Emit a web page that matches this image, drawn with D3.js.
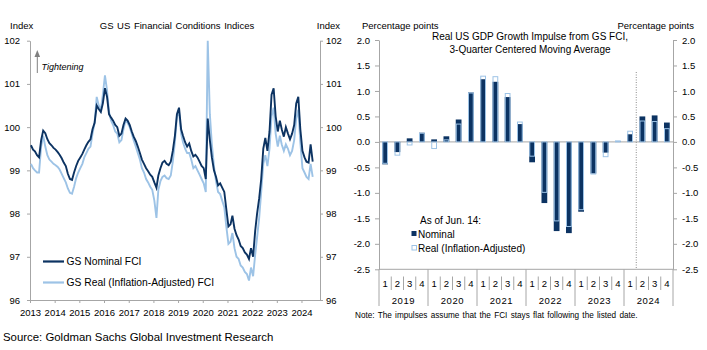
<!DOCTYPE html>
<html>
<head>
<meta charset="utf-8">
<script src="https://cdn.jsdelivr.net/npm/d3@7"></script>
<style>
  body { margin: 0; background: #fff; }
  svg { display: block; font-family: "Liberation Sans", Arial, sans-serif; }
</style>
</head>
<body>
<svg id="chart" width="707" height="350"></svg>
<script>
// left panel: monthly GS FCI readings, Jan 2013 .. Jun 2024
const fciNominal = [
  99.58, 99.48, 99.44, 99.35, 99.30, 99.70, 99.92, 99.86, 99.72, 99.63, 99.58, 99.52,
  99.48, 99.42, 99.36, 99.28, 99.18, 99.10, 98.92, 98.80, 98.78, 98.95, 99.10, 99.22,
  99.30, 99.38, 99.48, 99.58, 99.66, 99.72, 99.95, 100.10, 100.50, 100.42, 100.35, 100.55,
  100.90, 100.70, 100.30, 100.22, 100.15, 100.05, 100.00, 99.80, 99.85, 100.05, 100.20, 100.15,
  100.05, 99.90, 99.78, 99.68, 99.55, 99.40, 99.25, 99.15, 99.05, 98.98, 98.90, 98.85,
  98.72, 98.60, 98.88, 99.05, 99.18, 99.22, 99.15, 99.12, 99.20, 99.45, 99.80, 100.30,
  100.45, 99.95, 99.80, 99.65, 99.55, 99.62, 99.45, 99.32, 99.36, 99.30, 99.20, 99.10,
  99.05, 98.80, 100.20, 99.70, 99.30, 99.00, 98.85, 98.65, 98.70, 98.60, 98.50, 98.10,
  97.70, 97.75, 97.95, 97.65, 97.50, 97.40, 97.25, 97.20, 97.10, 97.05, 96.95, 97.20,
  97.00, 97.60, 98.00, 98.35, 98.80, 99.50, 99.75, 99.45, 99.90, 100.75, 100.90, 100.25,
  99.90, 100.15, 99.95, 99.78, 100.00, 99.85, 99.72, 99.85, 100.05, 100.55, 100.70, 99.95,
  99.45, 99.30, 99.20, 99.18, 99.60, 99.20
];
const fciReal = [
  99.15, 99.05, 99.00, 98.95, 98.95, 99.55, 99.80, 99.55, 99.35, 99.25, 99.20, 99.15,
  99.12, 99.08, 99.02, 98.92, 98.82, 98.72, 98.58, 98.48, 98.46, 98.62, 98.82, 98.95,
  99.05, 99.15, 99.30, 99.40, 99.50, 99.55, 99.85, 100.10, 100.70, 100.50, 100.40, 100.75,
  101.20, 100.85, 100.35, 100.15, 100.05, 99.90, 99.85, 99.65, 99.70, 99.95, 100.15, 100.10,
  100.00, 99.85, 99.70, 99.55, 99.40, 99.25, 99.05, 98.95, 98.80, 98.72, 98.62, 98.55,
  98.30, 97.90, 98.55, 98.75, 98.85, 98.88, 98.82, 98.80, 98.88, 99.20, 99.65, 100.25,
  100.35, 99.85, 99.65, 99.50, 99.40, 99.40, 99.25, 99.05, 99.10, 99.00, 98.90, 98.80,
  98.70, 98.50, 102.00, 100.30, 99.60, 99.10, 98.75, 98.50, 98.45, 98.30, 98.15, 97.70,
  97.30, 97.35, 97.55, 97.20, 97.00, 96.95, 96.80, 96.75, 96.65, 96.60, 96.45, 96.75,
  96.55, 97.05, 97.45, 97.90, 98.50, 99.15, 99.35, 99.10, 99.50, 100.25, 100.45, 99.85,
  99.55, 99.80, 99.60, 99.45, 99.60, 99.50, 99.35, 99.45, 99.70, 100.20, 100.40, 99.65,
  99.05, 98.95, 98.85, 98.80, 99.15, 98.85
];
const fciTicks = [96, 97, 98, 99, 100, 101, 102];

// right panel: GDP growth impulse, 2019Q1 .. 2024Q4
const impulseYears = ['2019', '2020', '2021', '2022', '2023', '2024'];
const impulseQuarters = ['1', '2', '3', '4'];
const impulseNominal = [
  -0.44, -0.20, 0.07, 0.18,
  0.05, 0.11, 0.44, 0.97,
  1.23, 1.18, 0.88, 0.35,
  -0.40, -1.20, -1.75, -1.79,
  -1.37, -0.62, -0.21, 0.01,
  0.15, 0.50, 0.52, 0.38
];
const impulseReal = [
  -0.42, -0.26, -0.06, 0.17,
  -0.13, 0.04, 0.35, 0.96,
  1.29, 1.28, 0.95, 0.39,
  -0.28, -0.99, -1.55, -1.66,
  -1.33, -0.63, -0.29, 0.02,
  0.21, 0.41, 0.40, 0.26
];
const impulseTicks = [-2.5, -2.0, -1.5, -1.0, -0.5, 0.0, 0.5, 1.0, 1.5, 2.0];

const navy = '#0c3362';
const light = '#9dc3e6';
const grey = '#a6a6a6';

const svg = d3.select('#chart');

function styleAxis(g) {
  g.select('.domain').attr('stroke', grey);
  g.selectAll('.tick line').attr('stroke', grey);
  g.selectAll('.tick text').attr('fill', '#000').attr('font-size', 9.5)
    .attr('font-family', '"Liberation Sans", Arial, sans-serif');
}

// ---------- left panel ----------
const months = fciNominal.map((_, i) => new Date(2013, i, 15));
const fx = d3.scaleTime().domain([new Date(2013, 0, 1), new Date(2024, 9, 1)]).range([30, 320]);
const fy = d3.scaleLinear().domain([96, 102]).range([300, 40.7]);
const fmt0 = d3.format('d');

svg.append('g').attr('transform', 'translate(30,0)')
  .call(d3.axisLeft(fy).tickValues(fciTicks).tickFormat(fmt0).tickSize(3).tickSizeOuter(0).tickPadding(7))
  .call(styleAxis);
svg.append('g').attr('transform', 'translate(320,0)')
  .call(d3.axisRight(fy).tickValues(fciTicks).tickFormat(fmt0).tickSize(3).tickSizeOuter(0).tickPadding(3))
  .call(styleAxis);
svg.append('g').attr('transform', 'translate(0,300)')
  .call(d3.axisBottom(fx).ticks(d3.timeYear.every(1)).tickFormat(d3.timeFormat('%Y'))
    .tickSize(3).tickSizeOuter(0).tickPadding(6))
  .call(styleAxis);

const fciLine = (vals) => d3.line().x((d, i) => fx(months[i])).y((d) => fy(d))(vals);
svg.append('path').attr('d', fciLine(fciReal)).attr('fill', 'none')
  .attr('stroke', light).attr('stroke-width', 1.9);
svg.append('path').attr('d', fciLine(fciNominal)).attr('fill', 'none')
  .attr('stroke', navy).attr('stroke-width', 1.9);

svg.append('text').attr('x', 10).attr('y', 29).attr('font-size', 9.5).text('Index');
svg.append('text').attr('x', 340).attr('y', 29).attr('font-size', 9.5).attr('text-anchor', 'end').text('Index');
svg.append('text').attr('x', 177).attr('y', 29).attr('font-size', 9.5).attr('text-anchor', 'middle')
  .attr('word-spacing', 1).text('GS US Financial Conditions Indices');

// tightening arrow
svg.append('line').attr('x1', 37.3).attr('x2', 37.3).attr('y1', 56).attr('y2', 73)
  .attr('stroke', '#808080').attr('stroke-width', 1);
svg.append('path').attr('d', 'M34.5,57 L37.3,50 L40.1,57 Z').attr('fill', '#808080');
svg.append('text').attr('x', 41.5).attr('y', 70).attr('font-size', 9).attr('font-style', 'italic')
  .text('Tightening');

// left legend
const fciLegend = [{ label: 'GS Nominal FCI', color: navy }, { label: 'GS Real (Inflation-Adjusted) FCI', color: light }];
fciLegend.forEach((d, i) => {
  const y = 261.5 + i * 21;
  svg.append('line').attr('x1', 43).attr('x2', 64).attr('y1', y).attr('y2', y)
    .attr('stroke', d.color).attr('stroke-width', 2.2);
  svg.append('text').attr('x', 66.5).attr('y', y + 3.7).attr('font-size', 10.3).text(d.label);
});

// ---------- right panel ----------
const keys = impulseYears.flatMap((y) => impulseQuarters.map((q) => y + 'Q' + q));
const gx = d3.scaleBand().domain(keys).range([379, 673]).paddingInner(0.53).paddingOuter(0.265);
const gy = d3.scaleLinear().domain([-2.5, 2.0]).range([269.3, 40]);
const fmt1 = (d) => d.toFixed(1);

svg.append('g').attr('transform', 'translate(379,0)')
  .call(d3.axisLeft(gy).tickValues(impulseTicks).tickFormat(fmt1).tickSize(4).tickSizeOuter(0).tickPadding(5))
  .call(styleAxis);
svg.append('g').attr('transform', 'translate(673,0)')
  .call(d3.axisRight(gy).tickValues(impulseTicks).tickFormat(fmt1).tickSize(4).tickSizeOuter(0).tickPadding(5))
  .call(styleAxis);

svg.append('line').attr('x1', 379).attr('x2', 673).attr('y1', gy(0)).attr('y2', gy(0)).attr('stroke', grey);
svg.append('line').attr('x1', 379).attr('x2', 673).attr('y1', gy(-2.5)).attr('y2', gy(-2.5)).attr('stroke', grey);

const bw = gx.bandwidth();
svg.append('g').selectAll('rect').data(impulseNominal).join('rect')
  .attr('x', (d, i) => gx(keys[i]))
  .attr('width', bw)
  .attr('y', (d) => gy(Math.max(0, d)))
  .attr('height', (d) => Math.abs(gy(d) - gy(0)))
  .attr('fill', navy);
svg.append('g').selectAll('rect').data(impulseReal).join('rect')
  .attr('x', (d, i) => gx(keys[i]) + 0.5)
  .attr('width', bw - 1)
  .attr('y', (d) => gy(Math.max(0, d)))
  .attr('height', (d) => Math.abs(gy(d) - gy(0)))
  .attr('fill', 'none')
  .attr('stroke', light)
  .attr('stroke-width', 1);

// category axis: quarters and years
const step = gx.step();
const edge = (i) => gx(keys[0]) - (step - bw) / 2 + i * step;
keys.forEach((k, i) => {
  svg.append('text').attr('x', gx(k) + bw / 2).attr('y', 286.5).attr('font-size', 9.5)
    .attr('text-anchor', 'middle').text(impulseQuarters[i % 4]);
  if (i % 4 !== 0) {
    svg.append('line').attr('x1', edge(i)).attr('x2', edge(i)).attr('y1', 276.5).attr('y2', 290)
      .attr('stroke', grey);
  }
});
d3.range(impulseYears.length + 1).forEach((j) => {
  svg.append('line').attr('x1', edge(j * 4)).attr('x2', edge(j * 4)).attr('y1', 269.3).attr('y2', 306)
    .attr('stroke', grey);
});
impulseYears.forEach((y, j) => {
  svg.append('text').attr('x', edge(j * 4 + 2)).attr('y', 304).attr('font-size', 9.5)
    .attr('text-anchor', 'middle').attr('letter-spacing', 0.6).text(y);
});

// "as of" marker between 2024Q1 and 2024Q2
const asOf = edge(21);
svg.append('line').attr('x1', asOf).attr('x2', asOf).attr('y1', 72).attr('y2', 269.3)
  .attr('stroke', '#8c8c8c').attr('stroke-dasharray', '1,1.5');

svg.append('text').attr('x', 362).attr('y', 29).attr('font-size', 9.5).text('Percentage points');
svg.append('text').attr('x', 694).attr('y', 29).attr('font-size', 9.5).attr('text-anchor', 'end').text('Percentage points');
svg.append('text').attr('x', 530).attr('y', 40).attr('font-size', 10).attr('text-anchor', 'middle')
  .text('Real US GDP Growth Impulse from GS FCI,');
svg.append('text').attr('x', 530).attr('y', 52.5).attr('font-size', 10).attr('text-anchor', 'middle')
  .text('3-Quarter Centered Moving Average');

// right legend
svg.append('text').attr('x', 420).attr('y', 223.5).attr('font-size', 10).text('As of Jun. 14:');
svg.append('rect').attr('x', 411.5).attr('y', 231).attr('width', 5).attr('height', 5).attr('fill', navy);
svg.append('text').attr('x', 418).attr('y', 237.5).attr('font-size', 10).text('Nominal');
svg.append('rect').attr('x', 412).attr('y', 245.5).attr('width', 4.5).attr('height', 4.5)
  .attr('fill', '#fff').attr('stroke', light).attr('stroke-width', 1);
svg.append('text').attr('x', 418).attr('y', 251.5).attr('font-size', 10).text('Real (Inflation-Adjusted)');

svg.append('text').attr('x', 355).attr('y', 318).attr('font-size', 8.2).attr('word-spacing', 1)
  .text('Note: The impulses assume that the FCI stays flat following the listed date.');

svg.append('text').attr('x', 3).attr('y', 341).attr('font-size', 11.4)
  .text('Source: Goldman Sachs Global Investment Research');
</script>
</body>
</html>
